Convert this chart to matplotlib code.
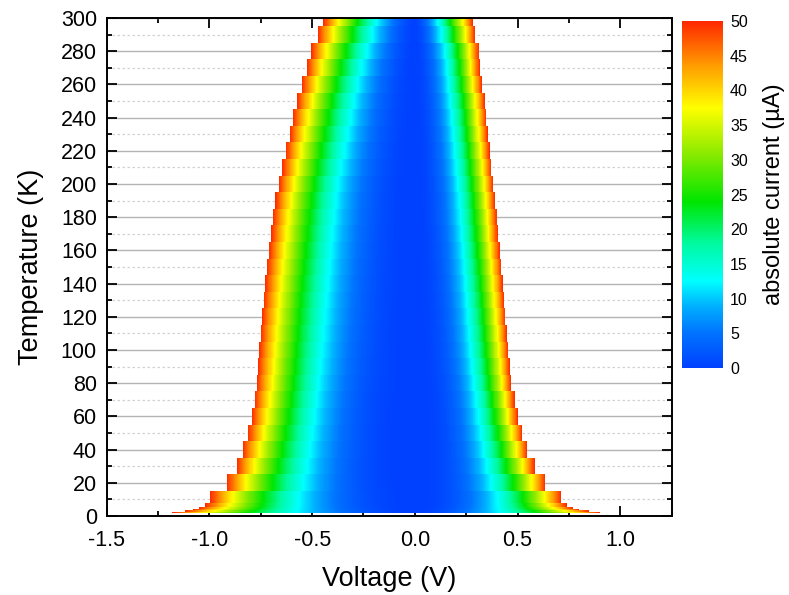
import numpy as np
import matplotlib
matplotlib.use("Agg")
import matplotlib.pyplot as plt
from matplotlib.colors import LinearSegmentedColormap
from matplotlib.ticker import MultipleLocator

plt.rcParams['font.family'] = ['Liberation Sans', 'DejaVu Sans']

# ---------------- data ----------------
# temperature rows (K)
temperatures = [2, 3, 4, 5, 6, 10, 20, 30, 40, 50, 60, 70, 80, 90, 100, 110, 120,
                130, 140, 150, 160, 170, 180, 190, 200, 210, 220, 230, 240,
                250, 260, 270, 280, 290, 300]
# negative-bias voltage where |I| reaches 50 uA (V)
v50_neg = [-1.18, -1.12, -1.08, -1.05, -1.02, -0.997, -0.916, -0.867, -0.838,
           -0.813, -0.795, -0.781, -0.770, -0.764, -0.758, -0.751, -0.744,
           -0.736, -0.728, -0.720, -0.711, -0.700, -0.692, -0.679, -0.662,
           -0.645, -0.628, -0.610, -0.594, -0.573, -0.550, -0.526, -0.505,
           -0.472, -0.445]
# positive-bias voltage where |I| reaches 50 uA (V)
v50_pos = [0.90, 0.85, 0.80, 0.77, 0.74, 0.713, 0.636, 0.583, 0.547, 0.522,
           0.500, 0.486, 0.469, 0.462, 0.455, 0.448, 0.441, 0.434, 0.427,
           0.420, 0.412, 0.404, 0.400, 0.391, 0.382, 0.373, 0.364, 0.355,
           0.348, 0.340, 0.326, 0.315, 0.312, 0.294, 0.283]
# negative-bias voltage where |I| reaches 10 uA (V)
v10_neg = [-0.513, -0.513, -0.513, -0.513, -0.513, -0.513, -0.495, -0.482,
           -0.470, -0.460, -0.450, -0.440, -0.430, -0.421, -0.414, -0.407,
           -0.400, -0.394, -0.387, -0.380, -0.373, -0.366, -0.358, -0.350,
           -0.340, -0.325, -0.310, -0.295, -0.280, -0.265, -0.248, -0.228,
           -0.205, -0.180, -0.160]
# positive-bias voltage where |I| reaches 10 uA (V)
v10_pos = [0.364, 0.364, 0.364, 0.364, 0.364, 0.364, 0.340, 0.322, 0.308,
           0.296, 0.285, 0.275, 0.265, 0.256, 0.248, 0.242, 0.236, 0.230,
           0.224, 0.218, 0.212, 0.206, 0.200, 0.196, 0.190, 0.182, 0.175,
           0.168, 0.161, 0.153, 0.145, 0.138, 0.128, 0.110, 0.096]

x_ticks = [-1.5, -1.0, -0.5, 0.0, 0.5, 1.0]
y_ticks = list(range(0, 301, 20))
cbar_ticks = list(range(0, 51, 5))
i_max = 50.0

# ---------------- build the current map ----------------
T = np.array(temperatures, dtype=float)
t_edges = np.concatenate([[T[0] - 0.5], (T[:-1] + T[1:]) / 2, [300.0]])
v_edges = np.linspace(-1.5, 1.25, 1101)
v_c = (v_edges[:-1] + v_edges[1:]) / 2

rows = []
for a50, b50, a10, b10 in zip(v50_neg, v50_pos, v10_neg, v10_pos):
    row = np.full(v_c.shape, np.nan)
    nl = np.log(5) / np.log(a50 / a10)
    nr = np.log(5) / np.log(b50 / b10)
    neg = (v_c < 0) & (v_c >= a50)
    pos = (v_c >= 0) & (v_c <= b50)
    row[neg] = 10 * (v_c[neg] / a10) ** nl
    row[pos] = 10 * (v_c[pos] / b10) ** nr
    rows.append(row)
current = np.ma.masked_invalid(np.array(rows))
current = np.ma.masked_greater(current, i_max + 1e-9)

cmap = LinearSegmentedColormap.from_list("origin_rainbow", [
    (0.00, (0.00, 0.25, 1.00)),
    (0.10, (0.00, 0.45, 1.00)),
    (0.18, (0.00, 0.70, 1.00)),
    (0.25, (0.00, 1.00, 1.00)),
    (0.36, (0.00, 0.98, 0.62)),
    (0.48, (0.00, 0.90, 0.00)),
    (0.62, (0.55, 0.92, 0.00)),
    (0.75, (1.00, 1.00, 0.00)),
    (0.87, (1.00, 0.62, 0.00)),
    (1.00, (1.00, 0.15, 0.00)),
], N=512)

# ---------------- figure ----------------
fig = plt.figure(figsize=(7.89, 5.95), dpi=100)
ax = fig.add_axes([0.1352, 0.1328, 0.7161, 0.8370])
ax.set_axisbelow(True)

mesh = ax.pcolormesh(v_edges, t_edges, current, cmap=cmap, vmin=0, vmax=i_max,
                     shading='flat', zorder=1, rasterized=True)

ax.set_xlim(-1.5, 1.25)
ax.set_ylim(0, 300)
ax.set_xticks(x_ticks)
ax.set_xticklabels([f"{v:.1f}" for v in x_ticks])
ax.xaxis.set_minor_locator(MultipleLocator(0.25))
ax.set_yticks(y_ticks)
ax.yaxis.set_minor_locator(MultipleLocator(10))

ax.grid(True, which='major', axis='y', color='#b4b4b4', linewidth=1.0, linestyle='-')
ax.grid(True, which='minor', axis='y', color='#d2d2d2', linewidth=0.9, linestyle=(0, (2, 2)))

ax.tick_params(which='both', direction='in', top=True, right=True, labelsize=15.5,
               colors='black', width=1.3)
ax.tick_params(which='major', length=7)
ax.tick_params(which='minor', length=3.5)
ax.tick_params(axis='x', which='major', pad=10)
ax.tick_params(axis='y', which='major', pad=7)
for s in ax.spines.values():
    s.set_linewidth(1.4)

ax.set_xlabel("Voltage (V)", fontsize=19.5, labelpad=11)
ax.set_ylabel("Temperature (K)", fontsize=19.5, labelpad=12)

cax = fig.add_axes([0.8644, 0.3815, 0.0520, 0.5832])
cb = fig.colorbar(mesh, cax=cax, ticks=cbar_ticks)
cb.outline.set_visible(False)
cax.tick_params(length=0, labelsize=11.5, pad=5)
cb.set_label("absolute current (\u00b5A)", fontsize=17, labelpad=11)

fig.savefig("out.png", dpi=100)
